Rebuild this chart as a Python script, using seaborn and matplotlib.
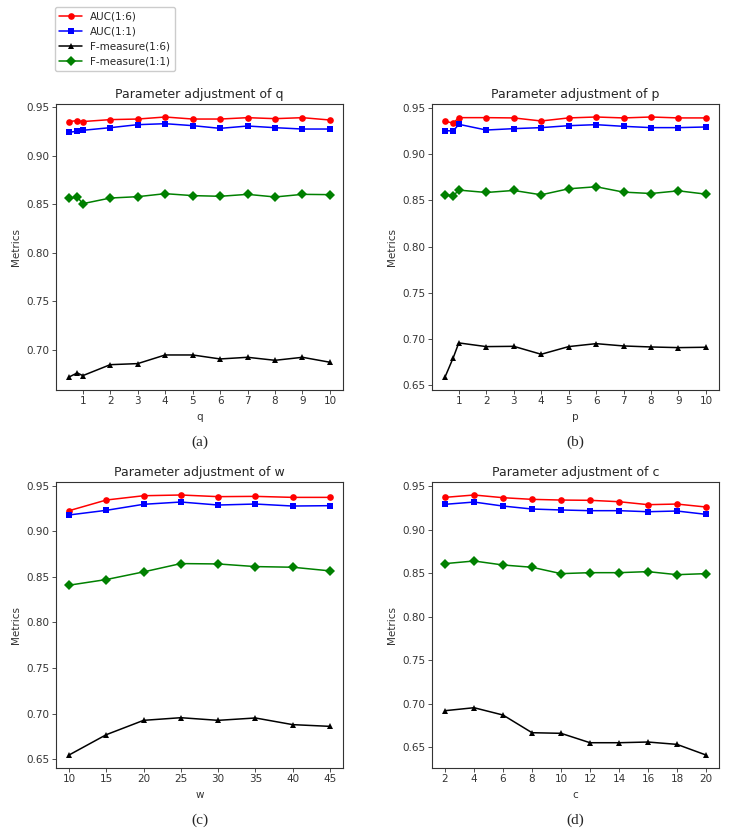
import matplotlib
matplotlib.use("Agg")
import matplotlib.pyplot as plt
import pandas as pd
import seaborn as sns

sns.set_style("ticks", {"axes.edgecolor": "#333333", "xtick.color": "#333333", "ytick.color": "#333333"})
plt.rcParams["font.family"] = ["DejaVu Sans"]

SERIES = ["AUC(1:6)", "AUC(1:1)", "F-measure(1:6)", "F-measure(1:1)"]
COLORS = dict(zip(SERIES, ["red", "blue", "black", "green"]))
MARKERS = dict(zip(SERIES, ["o", "s", "^", "D"]))

# (a) q
q_vals = [0.5, 0.8, 1, 2, 3, 4, 5, 6, 7, 8, 9, 10]
q_auc6 = [0.935, 0.936, 0.935, 0.937, 0.9376, 0.9397, 0.9376, 0.9376, 0.939, 0.938, 0.939, 0.9366]
q_auc1 = [0.924, 0.925, 0.926, 0.9287, 0.9318, 0.9328, 0.9308, 0.928, 0.9304, 0.9287, 0.9273, 0.9273]
q_f6 = [0.6718, 0.676, 0.6732, 0.6845, 0.6856, 0.6945, 0.6945, 0.6904, 0.6921, 0.689, 0.6921, 0.687]
q_f1 = [0.8559, 0.8573, 0.8504, 0.8562, 0.8576, 0.8607, 0.8587, 0.858, 0.86, 0.8573, 0.86, 0.8597]

# (b) p
p_vals = [0.5, 0.8, 1, 2, 3, 4, 5, 6, 7, 8, 9, 10]
p_auc6 = [0.9355, 0.9337, 0.9395, 0.9395, 0.9392, 0.9359, 0.9392, 0.9402, 0.9392, 0.9402, 0.9392, 0.9392]
p_auc1 = [0.9254, 0.9251, 0.9323, 0.9261, 0.9276, 0.9287, 0.9308, 0.9319, 0.9301, 0.9287, 0.9287, 0.9294]
p_f6 = [0.6588, 0.6798, 0.6957, 0.6917, 0.692, 0.6834, 0.6917, 0.6949, 0.6924, 0.6913, 0.6906, 0.691]
p_f1 = [0.856, 0.8549, 0.8611, 0.8585, 0.8607, 0.856, 0.8625, 0.8647, 0.8589, 0.8574, 0.8603, 0.8567]

# (c) w
w_vals = [10, 15, 20, 25, 30, 35, 40, 45]
w_auc6 = [0.9226, 0.9343, 0.939, 0.9398, 0.938, 0.9383, 0.9372, 0.9372]
w_auc1 = [0.9179, 0.923, 0.9296, 0.9321, 0.9288, 0.9299, 0.9277, 0.9281]
w_f6 = [0.6547, 0.677, 0.6927, 0.6956, 0.6927, 0.6953, 0.688, 0.6861]
w_f1 = [0.8409, 0.8471, 0.8555, 0.8646, 0.8642, 0.8613, 0.8606, 0.8566]

# (d) c
c_vals = [2, 4, 6, 8, 10, 12, 14, 16, 18, 20]
c_auc6 = [0.937, 0.9397, 0.9366, 0.9347, 0.9339, 0.9336, 0.932, 0.9286, 0.9293, 0.9259]
c_auc1 = [0.929, 0.9316, 0.927, 0.9236, 0.9225, 0.9217, 0.9217, 0.9205, 0.9213, 0.9175]
c_f6 = [0.692, 0.6954, 0.687, 0.6667, 0.666, 0.6552, 0.6552, 0.656, 0.6533, 0.6411]
c_f1 = [0.8609, 0.8639, 0.8593, 0.8567, 0.8494, 0.8505, 0.8505, 0.8517, 0.8482, 0.8494]


def long_frame(x, *cols):
    parts = [pd.DataFrame({"x": x, "value": v, "series": s}) for s, v in zip(SERIES, cols)]
    return pd.concat(parts, ignore_index=True)


def draw(ax, df, name, xticks):
    sns.lineplot(data=df, x="x", y="value", hue="series", style="series",
                 markers=MARKERS, dashes=False, palette=COLORS, hue_order=SERIES,
                 style_order=SERIES, markersize=4.8, markeredgewidth=0,
                 linewidth=1.1, ax=ax)
    ax.set_xticks(xticks)
    ax.set_title(f"Parameter adjustment of {name}", fontsize=9, pad=4)
    ax.set_xlabel(name, fontsize=7.5, color="#333333")
    ax.set_ylabel("Metrics", fontsize=7.5, color="#333333")
    ax.tick_params(labelsize=7.5, length=2.6, width=0.6, pad=2)
    for sp in ax.spines.values():
        sp.set_linewidth(0.8)


fig = plt.figure(figsize=(7.3, 8.36), dpi=100)
W, H = 730, 836
boxes = [(56, 104), (432, 104), (56, 482), (432, 482)]
axes = [fig.add_axes([l / W, 1 - (t + 286) / H, 287 / W, 286 / H]) for l, t in boxes]

draw(axes[0], long_frame(q_vals, q_auc6, q_auc1, q_f6, q_f1), "q", range(1, 11))
draw(axes[1], long_frame(p_vals, p_auc6, p_auc1, p_f6, p_f1), "p", range(1, 11))
draw(axes[2], long_frame(w_vals, w_auc6, w_auc1, w_f6, w_f1), "w", w_vals)
draw(axes[3], long_frame(c_vals, c_auc6, c_auc1, c_f6, c_f1), "c", c_vals)

handles, labels = axes[0].get_legend_handles_labels()
for ax in axes:
    ax.get_legend().remove()
fig.legend(handles, labels, loc="upper left", bbox_to_anchor=(55 / W, 1 - 7 / H),
           fontsize=7.5, frameon=True, framealpha=1, edgecolor="#cccccc",
           borderaxespad=0, handlelength=2.2)

for (l, t), tag in zip(boxes, ["(a)", "(b)", "(c)", "(d)"]):
    fig.text((l + 143.5) / W, 1 - (t + 338) / H, tag, ha="center", va="center",
             fontsize=11, family=["Liberation Serif"])

fig.savefig("out.png", dpi=100)
